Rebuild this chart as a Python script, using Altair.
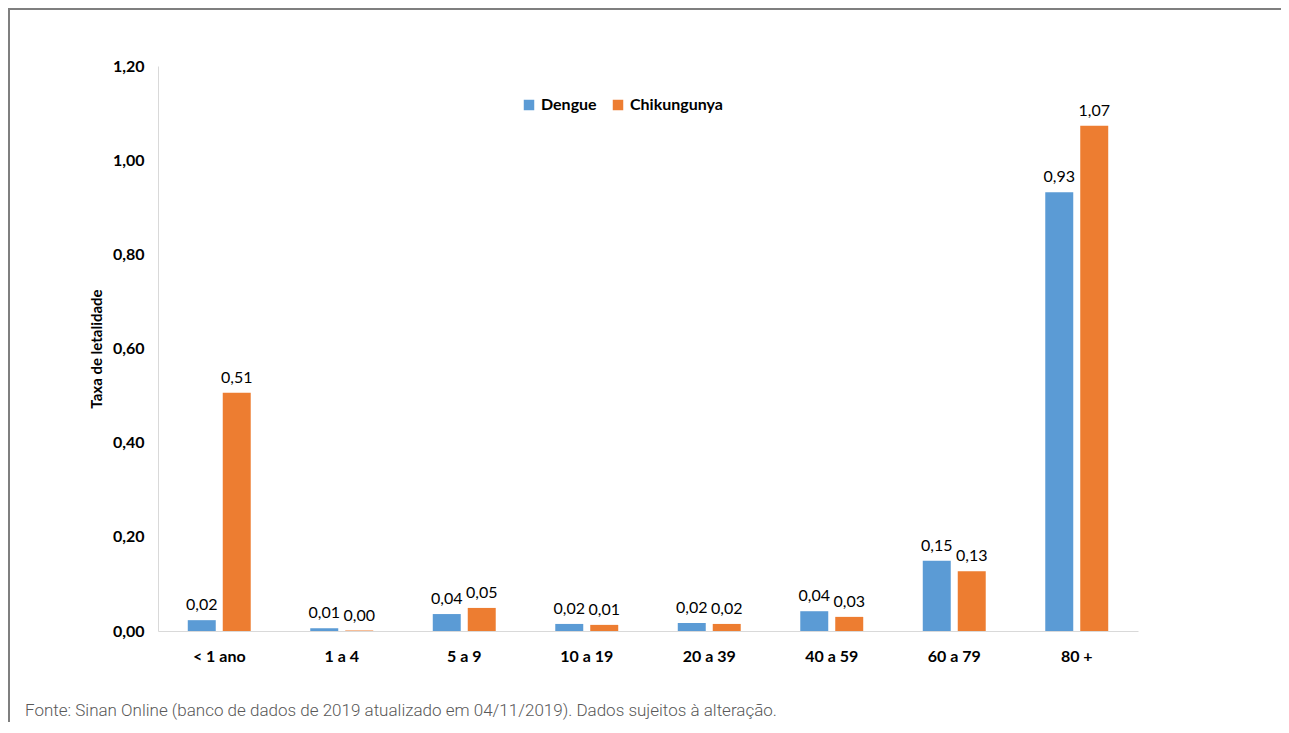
import altair as alt
import pandas as pd

categories = ["< 1 ano", "1 a 4", "5 a 9", "10 a 19", "20 a 39", "40 a 59", "60 a 79", "80 +"]
series = ["Dengue", "Chikungunya"]
dengue = [0.023, 0.006, 0.036, 0.015, 0.017, 0.042, 0.149, 0.932]
chik = [0.506, 0.001, 0.049, 0.013, 0.015, 0.030, 0.127, 1.073]
dengue_labels = ["0,02", "0,01", "0,04", "0,02", "0,02", "0,04", "0,15", "0,93"]
chik_labels = ["0,51", "0,00", "0,05", "0,01", "0,02", "0,03", "0,13", "1,07"]
y_ticks = [0.0, 0.2, 0.4, 0.6, 0.8, 1.0, 1.2]
colors = ["#5B9BD5", "#ED7D31"]
footnote = "Fonte: Sinan Online (banco de dados de 2019 atualizado em 04/11/2019). Dados sujeitos à alteração."

rows = []
for c, v, l in zip(categories, dengue, dengue_labels):
    rows.append({"faixa": c, "serie": "Dengue", "valor": v, "rotulo": l})
for c, v, l in zip(categories, chik, chik_labels):
    rows.append({"faixa": c, "serie": "Chikungunya", "valor": v, "rotulo": l})
df = pd.DataFrame(rows)

FONT = "Lato"

x_enc = alt.X("faixa:N", sort=categories,
              scale=alt.Scale(paddingInner=0.486, paddingOuter=0.243),
              axis=alt.Axis(title=None, labelAngle=0, labelFontWeight="bold",
                            labelFontSize=16, labelColor="#000", labelPadding=17,
                            ticks=False, domainColor="#d9d9d9", labelFont=FONT))
xoff = alt.XOffset("serie:N", sort=series,
                   scale=alt.Scale(paddingInner=0.2, paddingOuter=0))
y_enc = alt.Y("valor:Q", scale=alt.Scale(domain=[0, 1.2], nice=False),
              axis=alt.Axis(title="Taxa de letalidade", values=y_ticks,
                            labelExpr="replace(format(datum.value, '.2f'), '.', ',')",
                            labelFontWeight="bold", labelFontSize=16, labelColor="#000",
                            labelPadding=14, ticks=False, grid=False,
                            domainColor="#d9d9d9", titleFontSize=15,
                            titleFontWeight="bold", titleColor="#000",
                            titlePadding=8, labelFont=FONT, titleFont=FONT))

bars = alt.Chart(df).mark_bar().encode(
    x=x_enc,
    xOffset=xoff,
    y=y_enc,
    color=alt.Color("serie:N", sort=series,
                    scale=alt.Scale(domain=series, range=colors),
                    legend=alt.Legend(title=None, orient="none", direction="horizontal",
                                      legendX=363, legendY=31, symbolType="square",
                                      symbolSize=110, symbolStrokeWidth=0,
                                      labelFontSize=16, labelFontWeight="bold",
                                      labelColor="#000", labelFont=FONT,
                                      columnPadding=13, labelOffset=4)),
)

labels = alt.Chart(df).mark_text(baseline="bottom", dy=-7, fontSize=16,
                                 color="#000", font=FONT).encode(
    x=alt.X("faixa:N", sort=categories),
    xOffset=alt.XOffset("serie:N", sort=series),
    y="valor:Q",
    text="rotulo:N",
)

top_line = alt.Chart(df).mark_rule(stroke="#7f7f7f", strokeWidth=1.5).encode(
    x=alt.value(-150), x2=alt.value(1123), y=alt.value(-57)
)
left_line = alt.Chart(df).mark_rule(stroke="#7f7f7f", strokeWidth=1.5).encode(
    x=alt.value(-149), y=alt.value(-58), y2=alt.value(656)
)

chart = alt.layer(top_line, left_line, bars, labels).properties(
    width=980, height=565,
    title=alt.TitleParams(footnote, orient="bottom", anchor="start", frame="group",
                          dx=-133, offset=-20, fontSize=17, fontWeight=300,
                          color="#595959", font="Roboto"),
    autosize=alt.AutoSizeParams(type="none"),
    padding={"left": 150, "top": 58, "right": 143, "bottom": 91},
).configure_view(stroke=None)

chart.save("out.html", embed_options={"renderer": "svg", "actions": False})
